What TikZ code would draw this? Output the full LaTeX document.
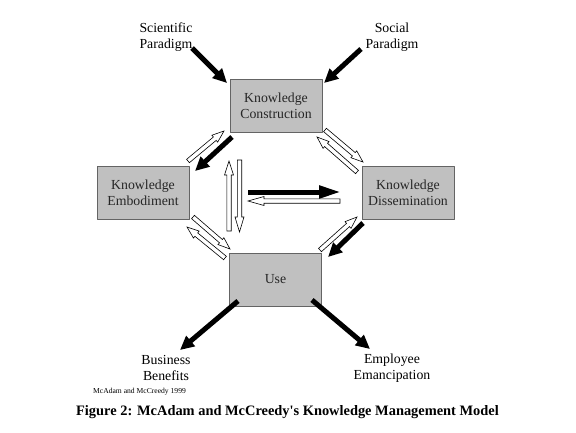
\documentclass[tikz,border=0pt]{standalone}
\usepackage{fontspec}
\setmainfont{Liberation Serif}
\usetikzlibrary{arrows.meta,calc}
\definecolor{boxfill}{RGB}{192,192,192}
\definecolor{boxline}{RGB}{100,100,100}
\newcommand{\labelfont}{\fontsize{13.8}{16}\selectfont}
\tikzset{
	kmbox/.style={draw=boxline, fill=boxfill, line width=0.8pt, minimum width=92pt, minimum height=53pt, inner sep=0pt, align=center, font=\labelfont, text=black!85},
	kmlabel/.style={align=center, font=\labelfont, inner sep=0pt},
	solidarrow/.style={line width=5pt, -{Triangle[length=14pt, width=13pt]}},
	hollow/.style={draw=black, fill=white, line width=0.6pt, line join=miter}
}
% hollow arrow from #2 to #3, head length #1
\newcommand{\hollowarrow}[3][12]{%
	\coordinate (hab) at ($(#3)!#1pt!(#2)$);
	\draw[hollow] ($(#2)!2.2pt!90:(#3)$) -- ($(hab)!2.2pt!90:(#3)$) -- ($(hab)!4.5pt!90:(#3)$) -- (#3) -- ($(hab)!4.5pt!-90:(#3)$) -- ($(hab)!2.2pt!-90:(#3)$) -- ($(#2)!2.2pt!-90:(#3)$) -- cycle;}
\begin{document}
\begin{tikzpicture}[x=1pt, y=-1pt, line join=round, >=stealth]
	\useasboundingbox[fill=white] (0,0) rectangle (576,432);
	% boxes
	\node[kmbox] (kc) at (276,106) {Knowledge\\Construction};
	\node[kmbox] (ke) at (143,192.5) {Knowledge\\Embodiment};
	\node[kmbox] (kd) at (408,192.5) {Knowledge\\Dissemination};
	\node[kmbox] (use) at (275.5,279.5) {Use};
	% outer labels
	\node[kmlabel] (sci) at (166,37) {Scientific\\Paradigm};
	\node[kmlabel] (soc) at (392,37) {Social\\Paradigm};
	\node[kmlabel] (bb) at (166,368) {Business\\Benefits};
	\node[kmlabel] (ee) at (392,368) {Employee\\Emancipation};
	\node[font=\fontsize{7.6}{9}\selectfont, inner sep=0pt, anchor=base west] (cite) at (93,393) {McAdam and McCreedy 1999};
	\node[font=\fontsize{14.4}{16}\selectfont\bfseries, inner sep=0pt, anchor=base] (caption) at (287.5,415.5) {Figure 2: McAdam and McCreedy\textquotesingle s Knowledge Management Model};
	% arrow end points
	\coordinate (sciA) at (192,48);   \coordinate (sciB) at (227,83);
	\coordinate (socA) at (361,49);   \coordinate (socB) at (324,83);
	\coordinate (kceA) at (232,137);  \coordinate (kceB) at (195,171);
	\coordinate (kduA) at (363,223);  \coordinate (kduB) at (328,257);
	\coordinate (midA) at (248,192);  \coordinate (midB) at (341,192);
	\coordinate (bbA) at (238,301);   \coordinate (bbB) at (180,350);
	\coordinate (eeA) at (312,300);   \coordinate (eeB) at (370,349);
	\coordinate (ekA) at (188,161);   \coordinate (ekB) at (224,131);
	\coordinate (cdA) at (325,130);   \coordinate (cdB) at (363,162);
	\coordinate (dcA) at (357,172);   \coordinate (dcB) at (317,137);
	\coordinate (udA) at (320,250);   \coordinate (udB) at (357,217);
	\coordinate (euA) at (193,217);   \coordinate (euB) at (230,249);
	\coordinate (ueA) at (225,258);   \coordinate (ueB) at (187,227);
	\coordinate (upA) at (229,231);   \coordinate (upB) at (229,161);
	\coordinate (dnA) at (239.5,160); \coordinate (dnB) at (239.5,232);
	\coordinate (lfA) at (340,201);   \coordinate (lfB) at (248,201);
	% black arrows
	\draw[solidarrow] (sciA) -- (sciB);
	\draw[solidarrow] (socA) -- (socB);
	\draw[solidarrow] (kceA) -- (kceB);
	\draw[solidarrow] (kduA) -- (kduB);
	\draw[solidarrow] (bbA) -- (bbB);
	\draw[solidarrow] (eeA) -- (eeB);
	\draw[line width=5pt, -{Triangle[length=22pt, width=12pt]}] (midA) -- (midB);
	% hollow arrows
	\hollowarrow{ekA}{ekB}
	\hollowarrow{cdA}{cdB}
	\hollowarrow{dcA}{dcB}
	\hollowarrow{udA}{udB}
	\hollowarrow{euA}{euB}
	\hollowarrow{ueA}{ueB}
	\hollowarrow[14]{upA}{upB}
	\hollowarrow[15]{dnA}{dnB}
	\hollowarrow[16]{lfA}{lfB}
\end{tikzpicture}
\end{document}
